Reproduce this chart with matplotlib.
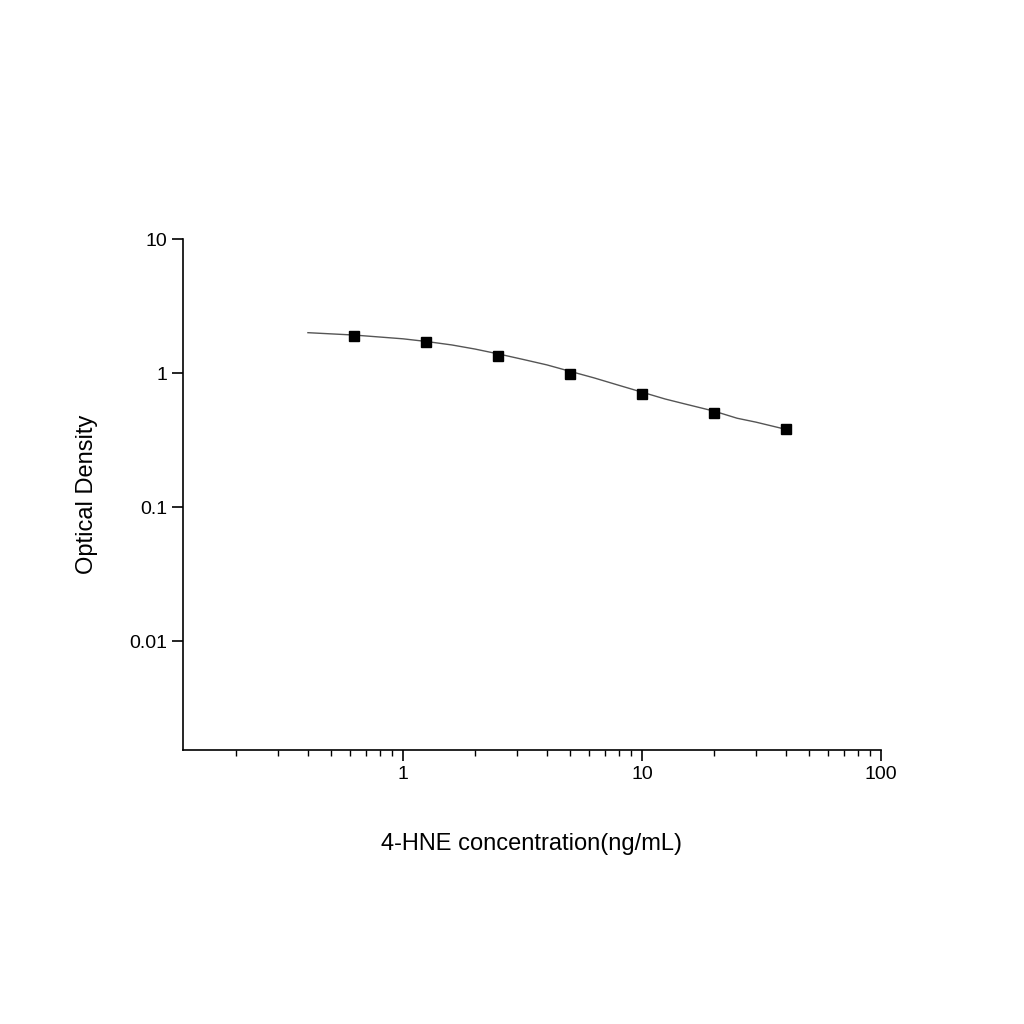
import matplotlib
matplotlib.use("Agg")
import matplotlib.pyplot as plt
from matplotlib.ticker import LogLocator, FixedLocator, FixedFormatter, NullLocator, NullFormatter

conc = [0.625, 1.25, 2.5, 5, 10, 20, 40]
od = [1.90, 1.69, 1.35, 0.99, 0.70, 0.50, 0.385]
curve_x = [0.4, 0.625, 1, 1.25, 1.6, 2, 2.5, 3.2, 4, 5, 6.3, 8, 10, 12.5, 15, 20, 25, 30, 40]
curve_y = [2.0, 1.92, 1.80, 1.72, 1.62, 1.51, 1.39, 1.26, 1.15, 1.03, 0.92, 0.81, 0.72, 0.64, 0.59, 0.52, 0.46, 0.43, 0.38]

plt.rcParams['font.family'] = ['Liberation Sans', 'DejaVu Sans']
fig = plt.figure(figsize=(10.24, 10.24), dpi=100)
ax = fig.add_axes([0.1787, 0.2676, 0.6816, 0.499])
ax.plot(curve_x, curve_y, color='#555555', lw=1)
ax.plot(conc, od, 's', color='black', ms=7)
ax.set_xscale('log'); ax.set_yscale('log')
ax.set_xlim(0.12, 100); ax.set_ylim(0.00154, 10)
for s in ['top', 'right']:
    ax.spines[s].set_visible(False)
for s in ['left', 'bottom']:
    ax.spines[s].set_linewidth(1.2)
ax.xaxis.set_major_locator(FixedLocator([1, 10, 100]))
ax.xaxis.set_major_formatter(FixedFormatter(['1', '10', '100']))
ax.xaxis.set_minor_locator(LogLocator(base=10, subs=range(2, 10)))
ax.xaxis.set_minor_formatter(NullFormatter())
ax.yaxis.set_major_locator(FixedLocator([0.01, 0.1, 1, 10]))
ax.yaxis.set_major_formatter(FixedFormatter(['0.01', '0.1', '1', '10']))
ax.yaxis.set_minor_locator(NullLocator())
ax.tick_params(which='major', direction='out', length=8, width=1.2, labelsize=14)
ax.tick_params(which='minor', direction='out', length=4, width=1)
ax.set_xlabel('4-HNE concentration(ng/mL)', fontsize=17, labelpad=36)
ax.set_ylabel('Optical Density', fontsize=17, labelpad=22)
fig.savefig('out.png', dpi=100)
